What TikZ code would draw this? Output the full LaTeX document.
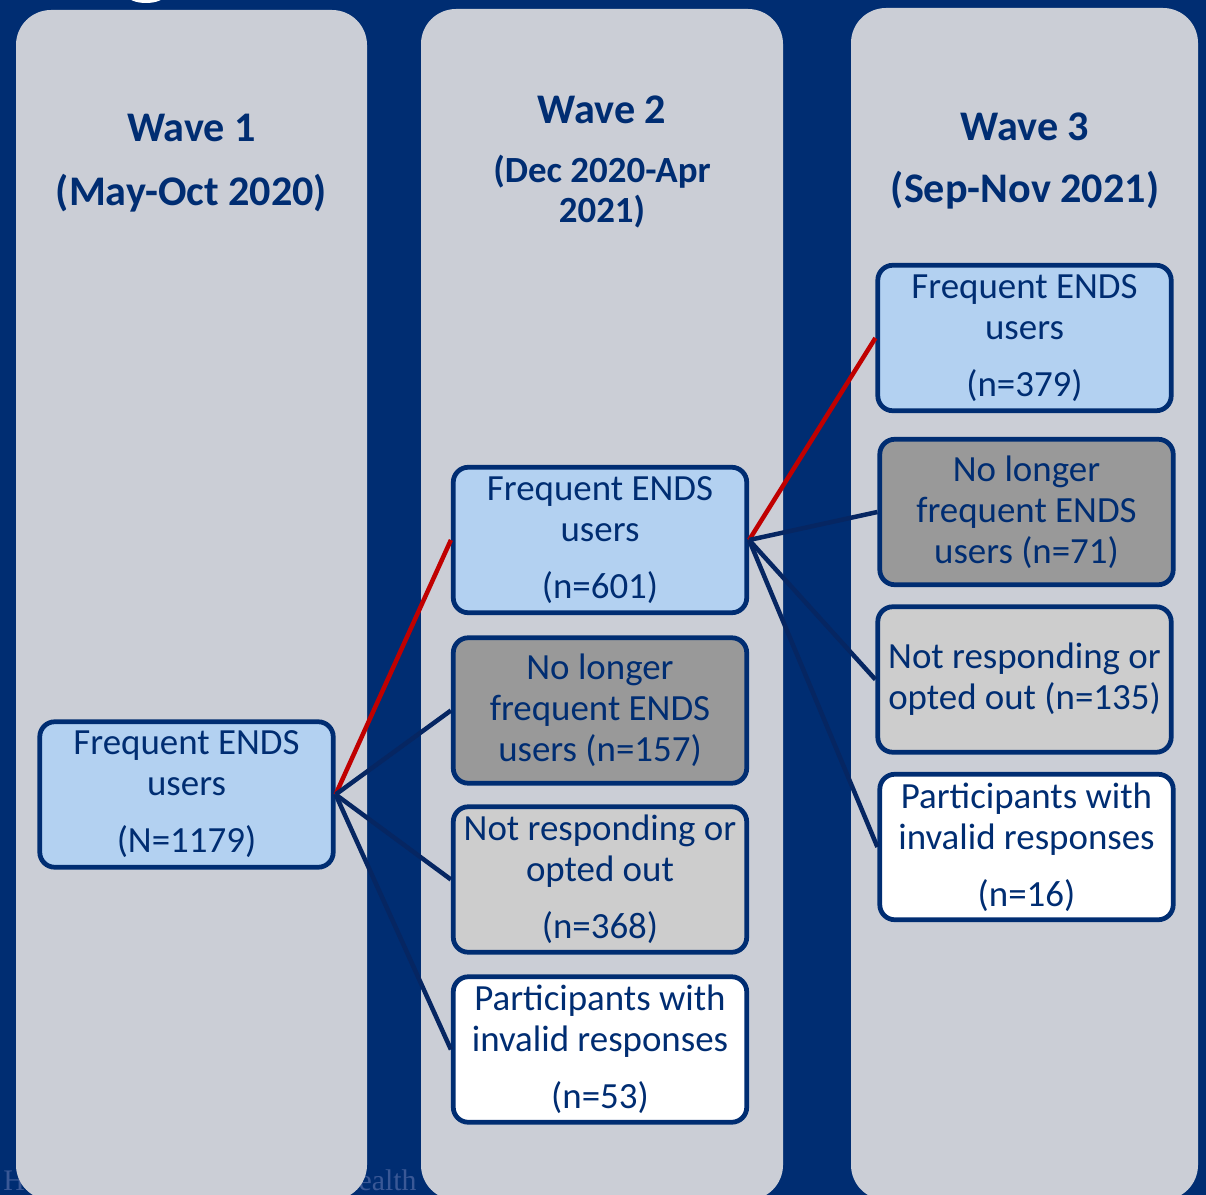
\documentclass[tikz,border=0pt]{standalone}
\usepackage{fontspec}
\setmainfont{Carlito}
\newfontfamily\footfont{Liberation Serif}
\usepackage{xcolor}
\definecolor{slidebg}{HTML}{002D72}
\definecolor{ink}{HTML}{002D72}
\definecolor{colfill}{HTML}{CBCED6}
\definecolor{userblue}{HTML}{B3D1F1}
\definecolor{dropgrey}{HTML}{999999}
\definecolor{lightgrey}{HTML}{CDCDCD}
\definecolor{linknavy}{HTML}{062662}
\definecolor{keepred}{HTML}{C00000}
\definecolor{footblue}{HTML}{3A5896}
\tikzset{
  font=\fontsize{21}{23.3}\selectfont,
  column/.style={fill=colfill, rounded corners=0.7cm},
  head/.style={text=ink, font=\fontsize{24}{27}\selectfont\bfseries, inner sep=0pt, align=center},
  base/.style={
    rounded corners=0.3cm, draw=ink, line width=0.095cm, text=ink,
    align=center, inner sep=2pt, minimum width=5.87cm, minimum height=2.91cm
  },
  bluebox/.style={base, fill=userblue},
  darkbox/.style={base, fill=dropgrey},
  greybox/.style={base, fill=lightgrey},
  whitebox/.style={base, fill=white},
  foot/.style={font=\footfont\fontsize{17}{20}\selectfont, text=footblue, inner sep=0pt},
  link/.style={draw=linknavy, line width=0.09cm},
  keep/.style={link, draw=keepred}
}

\begin{document}
\begin{tikzpicture}[x=0.02cm,y=-0.02cm]
  \useasboundingbox (0,0) rectangle (1206,1195);
  \clip (0,0) rectangle (1206,1195);
  \fill[slidebg] (0,0) rectangle (1206,1195);

  % leftovers of the slide
  \fill[white] (146,-5) ellipse [x radius=0.38cm, y radius=0.16cm];
  \node[foot, anchor=base west] (school) at (3,1190) {He};
  \node[foot, anchor=base east] (health) at (417,1190) {Health};

  % columns
  \fill[column] (16,10) rectangle (367,1200);
  \fill[column] (421,9) rectangle (783,1200);
  \fill[column] (851,8) rectangle (1198,1200);

  % headings
  \node[head] (w1) at (191.5,128) {Wave 1};
  \node[head] (d1) at (191.5,193) {(May-Oct 2020)};
  \node[head] (w2) at (602,110) {Wave 2};
  \node[head, font=\fontsize{21}{22.7}\selectfont\bfseries] (d2) at (602,192) {(Dec 2020-Apr\\2021)};
  \node[head] (w3) at (1025,127) {Wave 3};
  \node[head] (d3) at (1025,190) {(Sep-Nov 2021)};

  % wave 1
  \node[bluebox] (freq1) at (186.5,794.5) {Frequent ENDS\\users\\[0.32cm](N=1179)};

  % wave 2
  \node[bluebox]  (freq2) at (600,540)    {Frequent ENDS\\users\\[0.32cm](n=601)};
  \node[darkbox]  (drop2) at (600,710.5)  {No longer\\frequent ENDS\\users (n=157)};
  \node[greybox]  (nr2)   at (600,879.5)  {Not responding or\\opted out\\[0.32cm](n=368)};
  \node[whitebox] (inv2)  at (600,1049.5) {Participants with\\invalid responses\\[0.32cm](n=53)};

  % wave 3
  \node[bluebox]  (freq3) at (1024.5,338) {Frequent ENDS\\users\\[0.32cm](n=379)};
  \node[darkbox]  (drop3) at (1026.5,512) {No longer\\frequent ENDS\\users (n=71)};
  \node[greybox]  (nr3)   at (1024.5,679.5) {Not responding or\\opted out (n=135)};
  \node[whitebox] (inv3)  at (1026.5,847) {Participants with\\invalid responses\\[0.32cm](n=16)};

  \draw[keep] (freq1.east) -- (freq2.west);
  \draw[link] (freq1.east) -- (drop2.west);
  \draw[link] (freq1.east) -- (nr2.west);
  \draw[link] (freq1.east) -- (inv2.west);

  \draw[keep] (freq2.east) -- (freq3.west);
  \draw[link] (freq2.east) -- (drop3.west);
  \draw[link] (freq2.east) -- (nr3.west);
  \draw[link] (freq2.east) -- (inv3.west);
\end{tikzpicture}
\end{document}
